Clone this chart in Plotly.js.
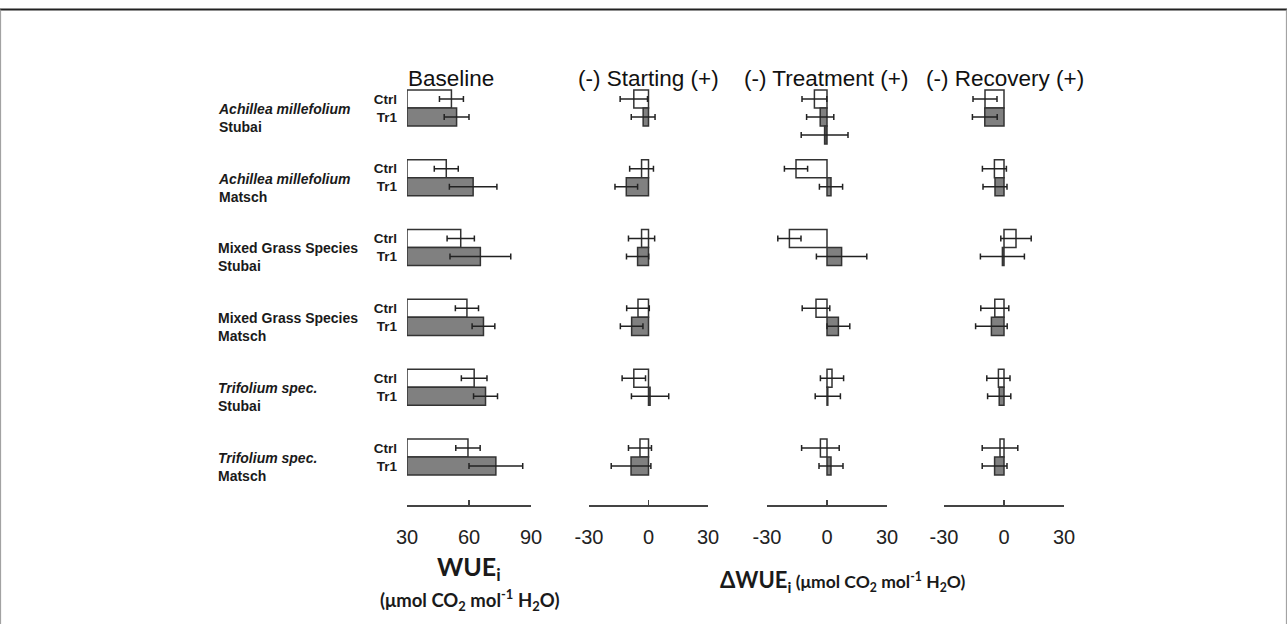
<!DOCTYPE html>
<html>
<head>
<meta charset="utf-8">
<script src="https://cdn.plot.ly/plotly-3.0.1.min.js"></script>
<style>html,body{margin:0;padding:0;background:#fff;}#chart{width:1287px;height:624px;}</style>
</head>
<body>
<div id="chart"></div>
<script>
// ---- data ----
const groupNames = [
  ['<i>Achillea millefolium</i>', 'Stubai'],
  ['<i>Achillea millefolium</i>', 'Matsch'],
  ['Mixed Grass Species', 'Stubai'],
  ['Mixed Grass Species', 'Matsch'],
  ['<i>Trifolium spec.</i>', 'Stubai'],
  ['<i>Trifolium spec.</i>', 'Matsch']
];
const treatments = ['Ctrl', 'Tr1'];
const panelTitles = ['Baseline', '(-) Starting (+)', '(-) Treatment (+)', '(-) Recovery (+)'];
const baselineTicks = [30, 60, 90];
const deltaTicks = [-30, 0, 30];

const baseCtrl = [51.5, 49, 56, 59, 62.5, 59.5];
const baseCtrlErr = [5.8, 5.8, 6.6, 5.6, 6.2, 5.9];
const baseTr1 = [54, 62, 65.5, 67, 68, 73];
const baseTr1Err = [6, 11.5, 14.7, 5.5, 5.8, 13];

const startCtrl = [-7.4, -3.5, -3.5, -5.3, -7.4, -4.3];
const startCtrlErr = [6.9, 6, 6.6, 5.7, 5.9, 5.8];
const startTr1 = [-2.7, -11.2, -5.5, -8.5, 0.8, -8.8];
const startTr1Err = [6, 5.7, 5.6, 5.7, 9.4, 10];

const treatCtrl = [-6.3, -15.5, -18.8, -5.5, 2.5, -3.3];
const treatCtrlErr = [6.2, 5.8, 5.8, 6.9, 5.8, 9.4];
const treatTr1 = [-3.4, 2, 7.3, 5.7, 0.4, 2];
const treatTr1Err = [6.8, 5.8, 12.6, 5.7, 6.3, 6];
// stray extra bar drawn under the first group in the Treatment panel
const treatExtra = [-1.2];
const treatExtraErr = [11.7];

const recovCtrl = [-9.5, -4.8, 6, -4.6, -2.8, -2];
const recovCtrlErr = [6, 6, 7.6, 7, 5.8, 8.9];
const recovTr1 = [-9.6, -4.5, -0.8, -6.3, -2.4, -4.7];
const recovTr1Err = [6.2, 6, 11, 7.9, 5.8, 6.2];

// ---- layout helpers ----
const W = 1287, H = 624;
const off = 0.129, bw = 0.258;
const yCtrl = groupNames.map((_, i) => i - off);
const yTr1 = groupNames.map((_, i) => i + off);
const FONT = 'Liberation Sans, Arial, sans-serif';
const FONT2 = 'Lato, Open Sans, sans-serif';

const panels = [
  {xa: 'x',  ctrl: baseCtrl,  ctrlErr: baseCtrlErr,  tr1: baseTr1,  tr1Err: baseTr1Err,  base: 30},
  {xa: 'x2', ctrl: startCtrl, ctrlErr: startCtrlErr, tr1: startTr1, tr1Err: startTr1Err, base: 0},
  {xa: 'x3', ctrl: treatCtrl, ctrlErr: treatCtrlErr, tr1: treatTr1, tr1Err: treatTr1Err, base: 0},
  {xa: 'x4', ctrl: recovCtrl, ctrlErr: recovCtrlErr, tr1: recovTr1, tr1Err: recovTr1Err, base: 0}
];

function barTrace(vals, errs, ys, xa, base, fill, name) {
  return {
    type: 'bar', orientation: 'h', name: name,
    x: vals.map(v => v - base), base: base, y: ys, width: bw,
    xaxis: xa, yaxis: 'y',
    marker: {color: fill, line: {color: '#333', width: 1.5}},
    error_x: {type: 'data', array: errs, symmetric: true, color: '#222', thickness: 1.5, width: 3},
    hoverinfo: 'skip'
  };
}

const traces = [];
panels.forEach(p => {
  traces.push(barTrace(p.ctrl, p.ctrlErr, yCtrl, p.xa, p.base, '#ffffff', 'Ctrl'));
  traces.push(barTrace(p.tr1, p.tr1Err, yTr1, p.xa, p.base, '#808080', 'Tr1'));
});
traces.push(barTrace(treatExtra, treatExtraErr, [0 + 3 * off], 'x3', 0, '#555555', 'extra'));

const plotTop = 80, plotBot = 505;
const pxToPaperY = p => (plotBot - p) / (plotBot - plotTop);

function xAxis(domPx, range, ticks) {
  return {
    domain: [domPx[0] / W, domPx[1] / W], range: range, anchor: 'y',
    tickvals: ticks, ticktext: ticks.map(String),
    showline: true, linecolor: '#444', linewidth: 1.5,
    ticks: 'inside', ticklen: 5, tickwidth: 1.5, tickcolor: '#444',
    showgrid: false, zeroline: false, fixedrange: true,
    tickfont: {family: FONT, size: 20, color: '#222'},
    ticklabelstandoff: 13
  };
}

const annotations = [];
const titleX = [451, 648, 826, 1005];
panelTitles.forEach((t, i) => annotations.push({
  text: t, xref: 'paper', yref: 'paper', x: titleX[i] / W, y: 1, yshift: 2,
  xanchor: 'center', yanchor: 'middle', showarrow: false,
  font: {family: FONT, size: 22.5, color: '#111'}
}));
groupNames.forEach((g, i) => annotations.push({
  text: '<b>' + g[0] + '</b><br><b>' + g[1] + '</b>',
  xref: 'paper', yref: 'y', x: 216 / W, y: i + 0.14,
  xanchor: 'left', yanchor: 'middle', align: 'left', showarrow: false,
  font: {family: FONT, size: 14, color: '#1a1a1a'}
}));
annotations.push({
  text: '<b>WUE<sub>i</sub></b>', xref: 'paper', yref: 'paper', x: 469 / W, y: 0, yshift: -(568 - plotBot),
  xanchor: 'center', yanchor: 'middle', showarrow: false,
  font: {family: FONT2, size: 25, color: '#1a1a1a'}
});
annotations.push({
  text: '<b>(μmol CO<sub>2</sub> mol<sup>-1</sup> H<sub>2</sub>O)</b>', xref: 'paper', yref: 'paper', x: 470 / W, y: 0, yshift: -(600 - plotBot),
  xanchor: 'center', yanchor: 'middle', showarrow: false,
  font: {family: FONT2, size: 18.5, color: '#1a1a1a'}
});
annotations.push({
  text: '<b><span style="font-size:22px">ΔWUE<sub>i</sub></span> (μmol CO<sub>2</sub> mol<sup>-1</sup> H<sub>2</sub>O)</b>',
  xref: 'paper', yref: 'paper', x: 843 / W, y: 0, yshift: -(581 - plotBot),
  xanchor: 'center', yanchor: 'middle', showarrow: false,
  font: {family: FONT2, size: 17.5, color: '#1a1a1a'}
});

const layout = {
  width: W, height: H,
  margin: {l: 0, r: 0, t: plotTop, b: H - plotBot, pad: 0},
  paper_bgcolor: '#ffffff', plot_bgcolor: 'rgba(0,0,0,0)',
  showlegend: false, barmode: 'overlay',
  xaxis: xAxis([407, 531], [30, 90], baselineTicks),
  xaxis2: xAxis([589, 708], [-30, 30], deltaTicks),
  xaxis3: xAxis([767, 887], [-30, 30], deltaTicks),
  xaxis4: xAxis([944, 1064], [-30, 30], deltaTicks),
  yaxis: {
    domain: [0, 1], anchor: 'x', range: [(plotBot - 108) / 69.8, -0.4 ],
    tickvals: yCtrl.concat(yTr1),
    ticktext: yCtrl.map(() => '<b>' + treatments[0] + '</b>').concat(yTr1.map(() => '<b>' + treatments[1] + '</b>')),
    showline: false, ticks: '', showgrid: false, zeroline: false, fixedrange: true,
    tickfont: {family: FONT, size: 13.5, color: '#1a1a1a'},
    ticklabelstandoff: 9
  },
  annotations: annotations,
  shapes: [
    {type: 'line', xref: 'paper', yref: 'paper', x0: 0, x1: 1, y0: pxToPaperY(9.5), y1: pxToPaperY(9.5), line: {color: '#222', width: 2}},
    {type: 'line', xref: 'paper', yref: 'paper', x0: 0.6 / W, x1: 0.6 / W, y0: pxToPaperY(9.5), y1: pxToPaperY(630), line: {color: '#999', width: 1}},
    {type: 'line', xref: 'paper', yref: 'paper', x0: 1 - 0.6 / W, x1: 1 - 0.6 / W, y0: pxToPaperY(9.5), y1: pxToPaperY(630), line: {color: '#999', width: 1}}
  ]
};

Plotly.newPlot('chart', traces, layout, {displayModeBar: false, staticPlot: true});
</script>
</body>
</html>
